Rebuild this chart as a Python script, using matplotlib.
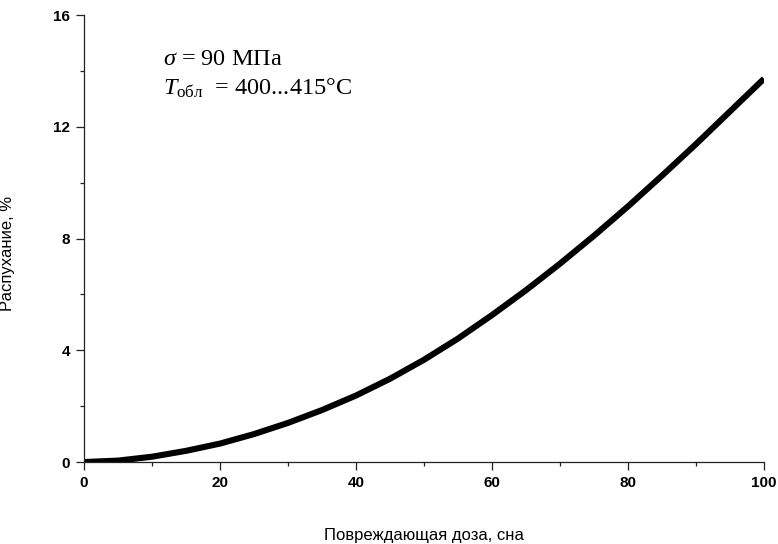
import numpy as np
import matplotlib
matplotlib.use("Agg")
import matplotlib.pyplot as plt
from matplotlib.ticker import MultipleLocator

# --- dati ---
doza = [0, 5, 10, 15, 20, 25, 30, 35, 40, 45, 50, 55, 60, 65, 70, 75, 80, 85, 90, 95, 100]
raspuhanie = [0.0, 0.05, 0.19, 0.40, 0.66, 1.00, 1.40, 1.86, 2.38, 2.98, 3.66, 4.42, 5.26, 6.15, 7.10, 8.10, 9.15, 10.25, 11.38, 12.55, 13.72]

x_ticks = [0, 20, 40, 60, 80, 100]
y_ticks = [0, 4, 8, 12, 16]

plt.rcParams['mathtext.fontset'] = 'custom'
plt.rcParams['mathtext.rm'] = 'Liberation Serif'
plt.rcParams['mathtext.it'] = 'Liberation Serif:italic'

fig = plt.figure(figsize=(7.78, 5.44), dpi=100)
ax = fig.add_axes([0.108, 0.1507, 0.874, 0.8217])

ax.plot(doza, raspuhanie, color='black', lw=4.4, solid_capstyle='butt')

ax.set_xlim(0, 100)
ax.set_ylim(0, 16)
ax.set_xticks(x_ticks)
ax.set_yticks(y_ticks)
ax.xaxis.set_minor_locator(MultipleLocator(10))
ax.yaxis.set_minor_locator(MultipleLocator(2))

for s in ['top', 'right']:
    ax.spines[s].set_visible(False)
for s in ['left', 'bottom']:
    ax.spines[s].set_linewidth(0.9)
    ax.spines[s].set_color('#222222')

ax.tick_params(which='major', length=5.5, width=0.9, color='#222222')
ax.tick_params(which='minor', length=3, width=0.9, color='#222222')
ax.tick_params(axis='x', pad=4.5)
ax.tick_params(axis='y', pad=4.5)
for lab in ax.get_xticklabels() + ax.get_yticklabels():
    lab.set_family('Liberation Sans')
    lab.set_fontsize(11)
    lab.set_fontweight('bold')

ax.set_xlabel('Повреждающая доза, сна', family='Liberation Sans', fontsize=12)
ax.set_ylabel('Распухание, %', family='Liberation Sans', fontsize=12)
ax.xaxis.set_label_coords(0.5, -0.148)
ax.yaxis.set_label_coords(-0.101, 0.467)

ax.text(0.116, 0.888, r'$\sigma$ = 90 МПа', transform=ax.transAxes,
        family='Liberation Serif', fontsize=17.5, va='baseline', ha='left')
ax.text(0.116, 0.821, r'$T_{\mathrm{обл}}$  = 400...415°C', transform=ax.transAxes,
        family='Liberation Serif', fontsize=17.5, va='baseline', ha='left')

fig.savefig('out.png', dpi=100)
